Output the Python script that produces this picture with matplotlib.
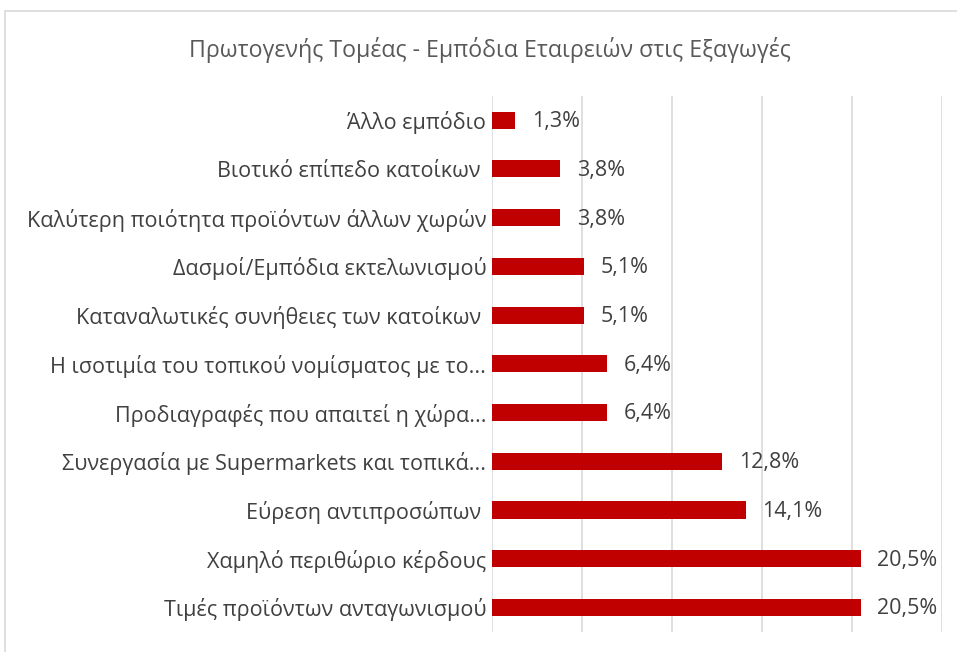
import matplotlib
matplotlib.use("Agg")
import matplotlib.pyplot as plt
from matplotlib.patches import Rectangle

plt.rcParams['font.family'] = ['Open Sans', 'DejaVu Sans']

# data, bottom to top
categories = ['Τιμές προϊόντων ανταγωνισμού',
              'Χαμηλό περιθώριο κέρδους',
              'Εύρεση αντιπροσώπων ',
              'Συνεργασία με Supermarkets και τοπικά...',
              'Προδιαγραφές που απαιτεί η χώρα...',
              'Η ισοτιμία του τοπικού νομίσματος με το...',
              'Καταναλωτικές συνήθειες των κατοίκων ',
              'Δασμοί/Εμπόδια εκτελωνισμού',
              'Καλύτερη ποιότητα προϊόντων άλλων χωρών',
              'Βιοτικό επίπεδο κατοίκων ',
              'Άλλο εμπόδιο']
values = [20.5, 20.5, 14.1, 12.8, 6.4, 6.4, 5.1, 5.1, 3.8, 3.8, 1.3]
value_labels = ['20,5%', '20,5%', '14,1%', '12,8%', '6,4%', '6,4%',
                '5,1%', '5,1%', '3,8%', '3,8%', '1,3%']
title = 'Πρωτογενής Τομέας - Εμπόδια Εταιρειών στις Εξαγωγές'

fig = plt.figure(figsize=(9.57, 6.52), dpi=100)
ax = fig.add_axes([0.514, 0.031, 0.470, 0.822])

# chart border (cropped at right/bottom)
fig.patches.append(Rectangle((5/957, -0.1), 1.2, 1 - 11/652 + 0.1,
                             transform=fig.transFigure, fill=False,
                             edgecolor='#D9D9D9', linewidth=1.2))

y = range(len(categories))
ax.barh(y, values, height=0.35, color='#C00000', zorder=3)
for i, (v, lab) in enumerate(zip(values, value_labels)):
    ax.annotate(lab, (v, i), xytext=(12, -1), textcoords='offset points',
                va='center', ha='left', fontsize=15.5, color='#404040')

ax.set_xlim(0, 25)
ax.set_ylim(-0.5, len(categories) - 0.5)
ax.set_xticks([0, 5, 10, 15, 20, 25])
ax.set_xticklabels([])
ax.tick_params(axis='x', length=0)
ax.grid(axis='x', color='#D9D9D9', linewidth=1.2, zorder=0)
ax.set_yticks(list(y))
ax.set_yticklabels(categories, fontsize=15.5, color='#404040')
ax.tick_params(axis='y', length=0, pad=4)
for s in ax.spines.values():
    s.set_visible(False)

fig.text(0.512, 1 - 50/652, title, ha='center', va='center',
         fontsize=16.7, color='#595959')

fig.savefig('out.png', dpi=100)
